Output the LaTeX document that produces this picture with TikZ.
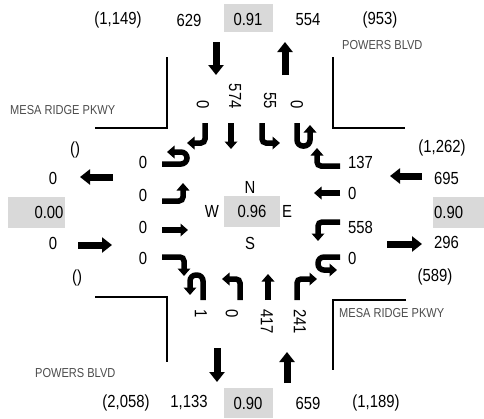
\documentclass[tikz,border=0pt]{standalone}
\usepackage{fontspec}
\setmainfont{Liberation Sans}[FakeStretch=0.85]
\usetikzlibrary{arrows.meta}
\begin{document}
\begin{tikzpicture}[x=1pt,y=-1pt,
  lbl/.style={font=\fontsize{17.5}{20}\selectfont, inner sep=0pt},
  street/.style={font=\fontsize{13}{15}\selectfont, text=black!70, inner sep=0pt, anchor=west},
  gbox/.style={fill=black!15},
  mv/.style={line width=5.5pt, -{Triangle[width=12.5pt,length=7.5pt]}, rounded corners=4pt},
  uturn/.style={line width=5.5pt, -{Triangle[width=12.5pt,length=7.5pt]}, rounded corners=6pt},
  big/.style={line width=7pt, -{Triangle[width=15pt,length=10pt]}},
  curb/.style={line width=2pt}
]
\useasboundingbox (0,0) rectangle (484,418);

% curb corners
\draw[curb] (95,128) -- (167,128) -- (167,57);
\draw[curb] (333,57) -- (333,128) -- (405,128);
\draw[curb] (95,297) -- (167,297) -- (167,362);
\draw[curb] (406,300) -- (333,300) -- (333,370);

% street names
\node[street] (sPowN) at (342,45) {POWERS BLVD};
\node[street] (sMesW) at (10,110) {MESA RIDGE PKWY};
\node[street] (sMesE) at (339,313) {MESA RIDGE PKWY};
\node[street] (sPowS) at (35,373) {POWERS BLVD};

% grey boxes
\fill[gbox] (224,4) rectangle (273,32);
\fill[gbox] (224,388) rectangle (273,418);
\fill[gbox] (8,197) rectangle (65,228);
\fill[gbox] (433,197) rectangle (484,228);
\fill[gbox] (224,196) rectangle (280,227);

% top texts
\node[lbl] (nA) at (118,20) {(1,149)};
\node[lbl] (nB) at (189,20) {629};
\node[lbl] (nPhf) at (248,19) {0.91};
\node[lbl] (nC) at (308,20) {554};
\node[lbl] (nD) at (380,20) {(953)};

% bottom texts
\node[lbl] (sA) at (126,403) {(2,058)};
\node[lbl] (sB) at (189,403) {1,133};
\node[lbl] (sPhf) at (248,403) {0.90};
\node[lbl] (sC) at (308,403) {659};
\node[lbl] (sD) at (376,403) {(1,189)};

% west texts
\node[lbl] (wA) at (75,150) {()};
\node[lbl] (wB) at (53,178) {0};
\node[lbl] (wPhf) at (49,212) {0.00};
\node[lbl] (wC) at (53,243) {0};
\node[lbl] (wD) at (77,278) {()};

% east texts
\node[lbl] (eA) at (442,148) {(1,262)};
\node[lbl, anchor=west] (eB) at (434,178) {695};
\node[lbl, anchor=west] (ePhf) at (434,212) {0.90};
\node[lbl, anchor=west] (eC) at (434,242) {296};
\node[lbl] (eD) at (435,277) {(589)};

% centre
\node[lbl] (cN) at (250,187) {N};
\node[lbl] (cW) at (212,211) {W};
\node[lbl] (cPhf) at (252,211) {0.96};
\node[lbl] (cE) at (287,211) {E};
\node[lbl] (cS) at (250,243) {S};

% southbound labels (north side)
\node[lbl, rotate=-90, anchor=east] (sbR) at (203,109) {0};
\node[lbl, rotate=-90, anchor=east] (sbT) at (235,109) {574};
\node[lbl, rotate=-90, anchor=east] (sbL) at (270,109) {55};
\node[lbl, rotate=-90, anchor=east] (sbU) at (297,109) {0};

% northbound labels (south side)
\node[lbl, rotate=-90, anchor=west] (nbU) at (201,309) {1};
\node[lbl, rotate=-90, anchor=west] (nbL) at (232,309) {0};
\node[lbl, rotate=-90, anchor=west] (nbT) at (267,309) {417};
\node[lbl, rotate=-90, anchor=west] (nbR) at (300,309) {241};

% eastbound labels (west side)
\node[lbl] (ebU) at (143,162) {0};
\node[lbl] (ebL) at (143,195) {0};
\node[lbl] (ebT) at (143,227) {0};
\node[lbl] (ebR) at (143,258) {0};

% westbound labels (east side)
\node[lbl, anchor=west] (wbR) at (348,162) {137};
\node[lbl, anchor=west] (wbT) at (348,193) {0};
\node[lbl, anchor=west] (wbL) at (348,227) {558};
\node[lbl, anchor=west] (wbU) at (348,258) {0};

% approach arrows
\draw[big] (216,42) -- (216,75);
\draw[big] (285,75) -- (285,42);
\draw[big] (217,348) -- (217,382);
\draw[big] (287,383) -- (287,352);
\draw[big] (113,177) -- (80,177);
\draw[big] (78,245) -- (112,245);
\draw[big] (422,176) -- (390,176);
\draw[big] (387,244) -- (422,244);

% southbound movements
\draw[mv] (205,123) -- (205,143) -- (187,143);
\draw[mv] (231,123) -- (231,149);
\draw[mv] (262,123) -- (262,143) -- (280,143);
\draw[uturn] (297,123) -- (297,146) -- (310,146) -- (310,125);

% eastbound movements
\draw[uturn] (162,164) -- (187,164) -- (187,152) -- (167,152);
\draw[mv] (162,201) -- (183,201) -- (183,183);
\draw[mv] (162,230) -- (188,230);
\draw[mv] (162,257) -- (184,257) -- (184,276);

% westbound movements
\draw[mv] (340,166) -- (317,166) -- (317,148);
\draw[mv] (340,193) -- (314,193);
\draw[mv] (340,222) -- (318,222) -- (318,241);
\draw[uturn] (340,257) -- (318,257) -- (318,270) -- (337,270);

% northbound movements
\draw[uturn] (203,300) -- (203,275) -- (190,275) -- (190,295);
\draw[mv] (240,300) -- (240,279) -- (222,279);
\draw[mv] (268,300) -- (268,274);
\draw[mv] (297,300) -- (297,279) -- (317,279);
\end{tikzpicture}
\end{document}
